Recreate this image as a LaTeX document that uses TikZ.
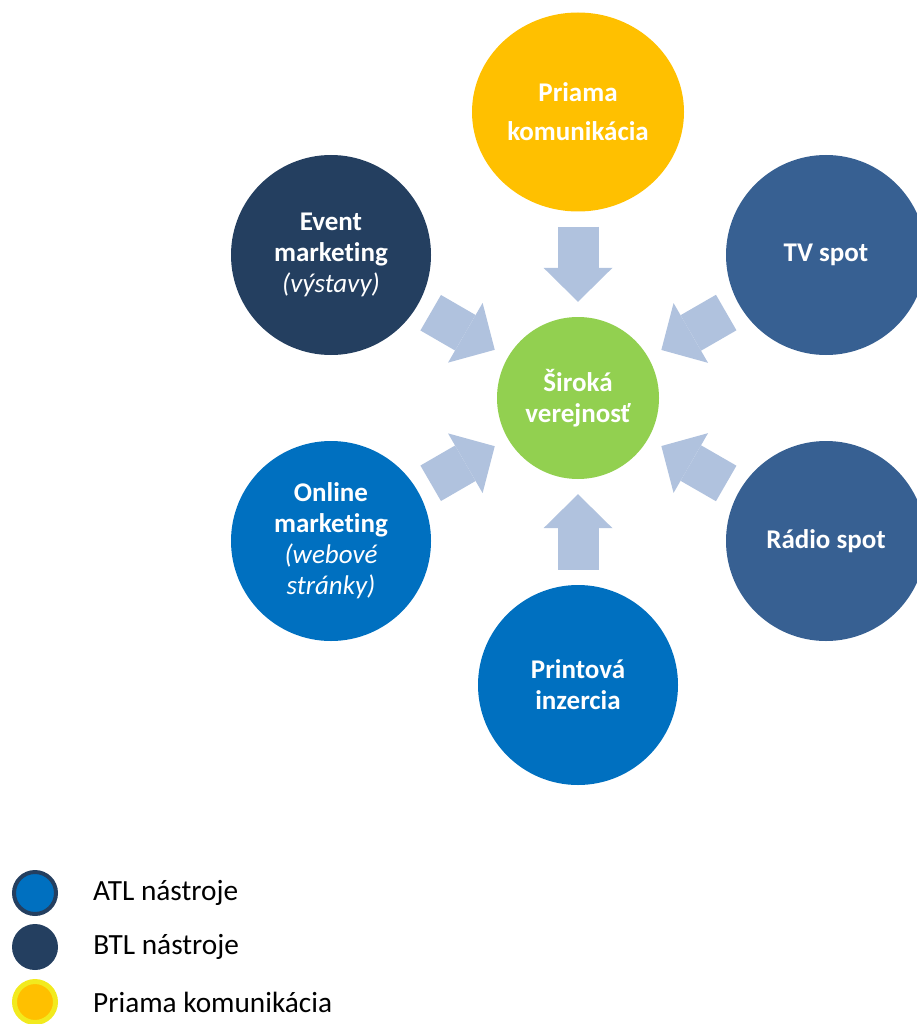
\documentclass[tikz,border=0pt]{standalone}
\usepackage{fontspec}
\setmainfont[Ligatures={NoCommon}]{Carlito}
\usepackage{tikz}
\usetikzlibrary{positioning, shapes.geometric, arrows.meta}
\definecolor{ATL}{HTML}{0070C0}
\definecolor{BTL}{HTML}{243F60}
\definecolor{Spot}{HTML}{376092}
\definecolor{Direct}{HTML}{FFC000}
\definecolor{Public}{HTML}{92D050}
\definecolor{Flow}{HTML}{B0C2DE}
\definecolor{Rim}{HTML}{F2EA1E}
\tikzstyle{Arrow} = [
	Flow, line width=41pt,
	shorten <= 15pt, shorten >= 15pt,
	-{Triangle[length=34pt, width=69pt, line width=0pt]}
	]
\tikzstyle{Circle} = [
	circle, minimum size=200pt, inner sep=0pt,
	text=white, align=center,
	font=\fontsize{27}{31}\selectfont\bfseries
	]
\tikzstyle{Key} = [circle, minimum size=46pt, inner sep=0pt]
\tikzstyle{KeyText} = [anchor=west, inner sep=0pt,
	font=\fontsize{29.3}{35}\selectfont]
\newcommand{\hint}[1]{{\mdseries\itshape #1}}
\begin{document}
\begin{tikzpicture}[x=1pt, y=-1pt]
	\useasboundingbox (0,0) rectangle (917,1024);
	%nodes:
		\node [Circle, fill=Public, minimum size=162pt] (1) at (578,398) {Široká\\verejnosť};
		\node [Circle, ellipse, fill=Direct, minimum width=212pt, minimum height=199pt,
			font=\fontsize{27}{39}\selectfont\bfseries] (2) at (578,112) {Priama\\komunikácia};
		\node [Circle, fill=Spot] (3) at (826,255) {TV spot};
		\node [Circle, fill=Spot] (4) at (826,541) {Rádio spot};
		\node [Circle, fill=ATL] (5) at (578,685) {Printová\\inzercia};
		\node [Circle, fill=ATL] (6) at (331,541) {Online\\marketing\\\hint{(webové}\\\hint{stránky)}};
		\node [Circle, fill=BTL] (7) at (331,255) {Event\\marketing\\\hint{(výstavy)}};
	%edges:
		\draw[Arrow] (2) -- (1);
		\draw[Arrow] (3) -- (1);
		\draw[Arrow] (4) -- (1);
		\draw[Arrow] (5) -- (1);
		\draw[Arrow] (6) -- (1);
		\draw[Arrow] (7) -- (1);
	%legend:
		\node [Key, draw=BTL, line width=4pt, fill=ATL, minimum size=42pt] (8) at (35,893) {};
		\node [Key, fill=BTL] (9) at (35,947) {};
		\node [Key, draw=Rim, line width=5pt, fill=Direct, minimum size=41pt] (10) at (35,1002) {};
		\node [KeyText, right =35pt of 8] (11) {ATL nástroje};
		\node [KeyText, right =35pt of 9] (12) {BTL nástroje};
		\node [KeyText, right =35pt of 10] (13) {Priama komunikácia};
\end{tikzpicture}
\end{document}
